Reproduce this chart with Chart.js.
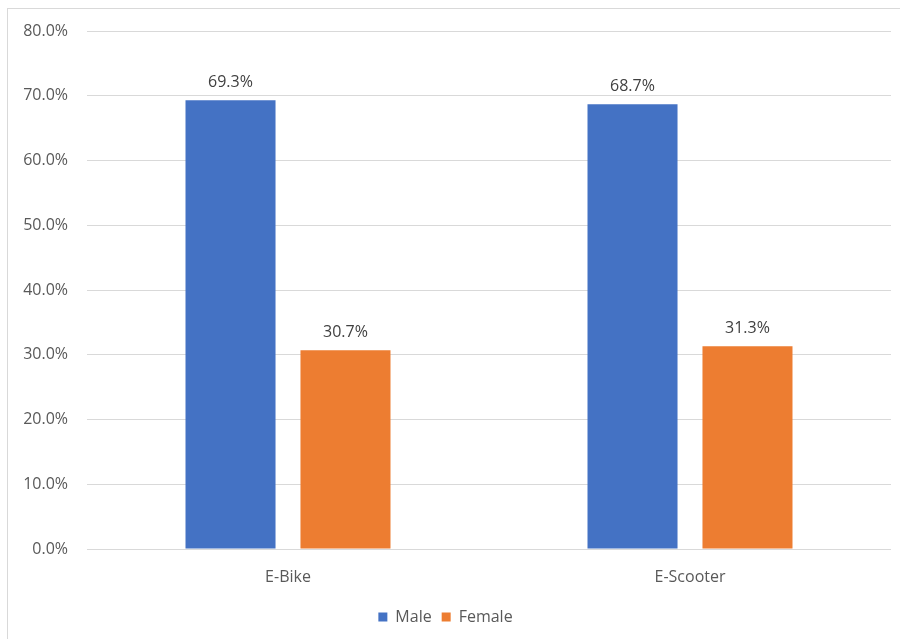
<!DOCTYPE html>
<html>
<head>
<meta charset="utf-8">
<script src="https://cdn.jsdelivr.net/npm/chart.js@4"></script>
<style>
  html, body { margin: 0; padding: 0; background: #ffffff; }
  #wrap { width: 900px; height: 639px; position: relative; }
</style>
</head>
<body>
<div id="wrap"><canvas id="chart" width="900" height="639"></canvas></div>
<script>
// Share of riders by gender for each vehicle type
const categories = ['E-Bike', 'E-Scooter'];
const maleShare = [69.3, 68.7];
const femaleShare = [30.7, 31.3];
const seriesNames = ['Male', 'Female'];

const FONT = '"Open Sans", sans-serif';
const TEXT = '#595959';

// Light frame drawn around the chart
const framePlugin = {
  id: 'frame',
  beforeDraw(chart) {
    const ctx = chart.ctx;
    ctx.save();
    ctx.fillStyle = '#ffffff';
    ctx.fillRect(0, 0, chart.width, chart.height);
    ctx.strokeStyle = '#d9d9d9';
    ctx.lineWidth = 1;
    ctx.strokeRect(7.5, 8.5, 900, 640);
    ctx.restore();
  }
};

// Value labels above each bar
const valueLabels = {
  id: 'valueLabels',
  afterDatasetsDraw(chart) {
    const ctx = chart.ctx;
    ctx.save();
    ctx.font = '16px ' + FONT;
    ctx.fillStyle = '#404040';
    ctx.textAlign = 'center';
    ctx.textBaseline = 'alphabetic';
    chart.data.datasets.forEach((ds, i) => {
      chart.getDatasetMeta(i).data.forEach((bar, j) => {
        ctx.fillText(ds.data[j].toFixed(1) + '%', bar.x, bar.y - 13);
      });
    });
    ctx.restore();
  }
};

new Chart(document.getElementById('chart'), {
  type: 'bar',
  data: {
    labels: categories,
    datasets: [
      { label: seriesNames[0], data: maleShare, backgroundColor: '#4472C4',
        categoryPercentage: 0.572, barPercentage: 0.783 },
      { label: seriesNames[1], data: femaleShare, backgroundColor: '#ED7D31',
        categoryPercentage: 0.572, barPercentage: 0.783 }
    ]
  },
  options: {
    responsive: false,
    animation: false,
    layout: { padding: { top: 31, right: 9, bottom: 4, left: 0 } },
    plugins: {
      legend: {
        position: 'bottom',
        labels: {
          boxWidth: 9, boxHeight: 9, padding: 10,
          color: TEXT, font: { family: FONT, size: 16 }
        }
      },
      tooltip: { enabled: false }
    },
    scales: {
      x: {
        grid: { display: false, drawTicks: false },
        border: { display: false },
        ticks: { color: TEXT, font: { family: FONT, size: 16 }, padding: 19 },
        afterFit(scale) { scale.height = 50; }
      },
      y: {
        min: 0, max: 80,
        grid: { color: '#d9d9d9', lineWidth: 1, drawTicks: false },
        border: { display: false },
        ticks: {
          stepSize: 10, padding: 19, color: TEXT,
          font: { family: FONT, size: 16 },
          callback: v => v.toFixed(1) + '%'
        },
        afterFit(scale) { scale.width = 87; }
      }
    }
  },
  plugins: [framePlugin, valueLabels]
});
</script>
</body>
</html>
